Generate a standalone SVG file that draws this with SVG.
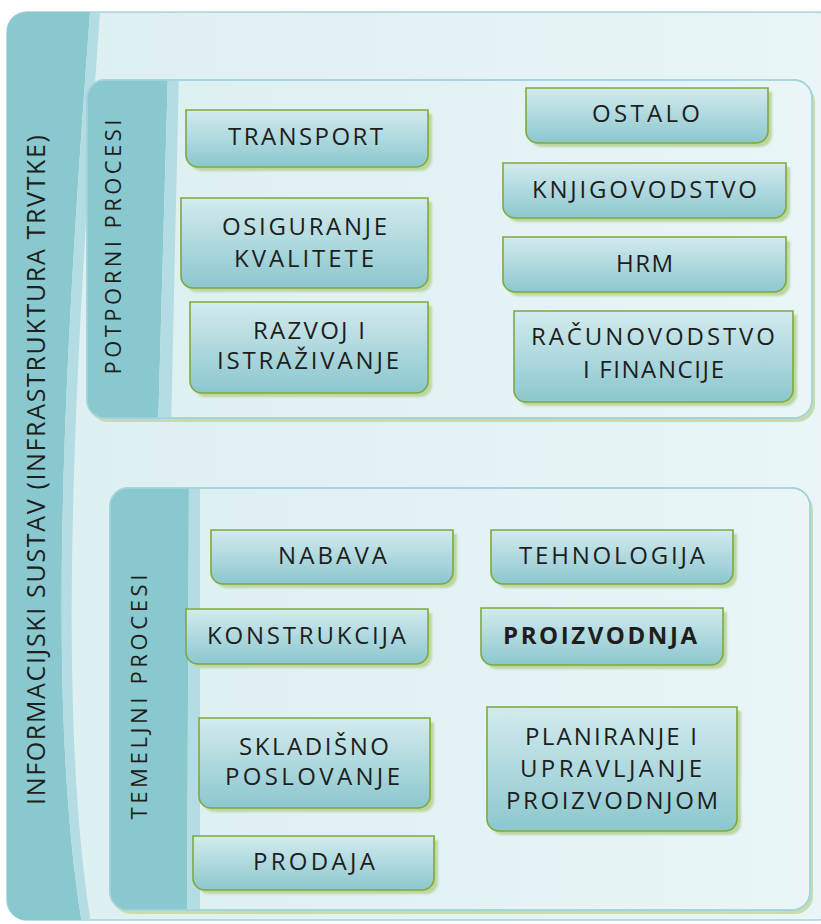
<svg xmlns="http://www.w3.org/2000/svg" width="821" height="924" viewBox="0 0 821 924">
<style>
.bg{fill:url(#bgGrad);stroke:#a3d4db;stroke-width:1.5}
.band{fill:#8ac8cf}
.stripe{fill:#b3dde2}
.cshadow{fill:#c6dcae}
.nshadow{fill:#bcd6a0;filter:url(#blur)}
.node{fill:url(#nodeGrad);stroke:#7fa93c;stroke-width:1.6}
.lbl{font-family:"Open Sans","Liberation Sans",sans-serif;font-size:24px;fill:#1e1e1e;text-anchor:middle}
.bold{font-weight:bold}
.side{font-family:"Open Sans","Liberation Sans",sans-serif;fill:#1e1e1e;text-anchor:middle}
</style>
<defs>
<linearGradient id="bgGrad" x1="0" y1="0" x2="1" y2="0">
<stop offset="0" stop-color="#ddeff2"/>
<stop offset="1" stop-color="#e9f5f7"/>
</linearGradient>
<linearGradient id="nodeGrad" x1="0" y1="0" x2="0" y2="1">
<stop offset="0" stop-color="#d3ebee"/>
<stop offset="1" stop-color="#8bc7ce"/>
</linearGradient>
<filter id="blur" x="-10%" y="-10%" width="120%" height="120%"><feGaussianBlur stdDeviation="1.2"/></filter>
<clipPath id="clipOuter"><rect x="7" y="12" width="830" height="908" rx="20"/></clipPath>
<clipPath id="clipUp"><rect x="87" y="80" width="725" height="338" rx="18"/></clipPath>
<clipPath id="clipLow"><rect x="110" y="488" width="700" height="422" rx="18"/></clipPath>
</defs>

<g id="outer">
<rect class="bg" x="7" y="12" width="830" height="908" rx="20"/>
<g clip-path="url(#clipOuter)">
<path class="band" d="M0 0 H90 V12 C65 350 45 700 82 924 H0 Z"/>
<path class="stripe" d="M90 12 C65 350 45 700 82 924 H91 C55 700 76 350 100 12 Z"/>
</g>
<text class="side" font-size="25" transform="translate(45 470) rotate(-90)" textLength="670" lengthAdjust="spacing">INFORMACIJSKI SUSTAV (INFRASTRUKTURA TRVTKE)</text>
</g>

<g id="potporni">
<rect class="cshadow" x="90" y="84" width="725" height="338" rx="18"/>
<rect class="bg" x="87" y="80" width="725" height="338" rx="18"/>
<g clip-path="url(#clipUp)">
<path class="band" d="M80 70 H168 L158 430 H80 Z"/>
<path class="stripe" d="M168 70 H179 L171 430 H158 Z"/>
</g>
<rect x="87" y="80" width="725" height="338" rx="18" fill="none" stroke="#a3d4db" stroke-width="1.5"/>
<text class="side" font-size="22" transform="translate(121 247) rotate(-90)" textLength="255" lengthAdjust="spacing">POTPORNI PROCESI</text>
</g>

<g id="temeljni">
<rect class="cshadow" x="113" y="492" width="700" height="422" rx="18"/>
<rect class="bg" x="110" y="488" width="700" height="422" rx="18"/>
<g clip-path="url(#clipLow)">
<path class="band" d="M100 480 H189 L187 920 H100 Z"/>
<path class="stripe" d="M189 480 H200 L200 920 H187 Z"/>
</g>
<rect x="110" y="488" width="700" height="422" rx="18" fill="none" stroke="#a3d4db" stroke-width="1.5"/>
<text class="side" font-size="22" transform="translate(147 697) rotate(-90)" textLength="245" lengthAdjust="spacing">TEMELJNI PROCESI</text>
</g>

<g id="connectors"></g>

<g id="n-transport">
<path class="nshadow" d="M190 114 H432 V159 A12 12 0 0 1 420 171 H202 A12 12 0 0 1 190 159 Z"/>
<path class="node" d="M186 110 H428 V155 A12 12 0 0 1 416 167 H198 A12 12 0 0 1 186 155 Z"/>
<text class="lbl" x="305.5" y="145" textLength="155" lengthAdjust="spacing">TRANSPORT</text>
</g>

<g id="n-osiguranje">
<path class="nshadow" d="M185 202 H432 V280 A12 12 0 0 1 420 292 H197 A12 12 0 0 1 185 280 Z"/>
<path class="node" d="M181 198 H428 V276 A12 12 0 0 1 416 288 H193 A12 12 0 0 1 181 276 Z"/>
<text class="lbl" x="304.5" y="235" textLength="165" lengthAdjust="spacing">OSIGURANJE</text>
<text class="lbl" x="304" y="267" textLength="140" lengthAdjust="spacing">KVALITETE</text>
</g>

<g id="n-razvoj">
<path class="nshadow" d="M194 306 H432 V385 A12 12 0 0 1 420 397 H206 A12 12 0 0 1 194 385 Z"/>
<path class="node" d="M190 302 H428 V381 A12 12 0 0 1 416 393 H202 A12 12 0 0 1 190 381 Z"/>
<text class="lbl" x="309" y="339" textLength="112" lengthAdjust="spacing">RAZVOJ I</text>
<text class="lbl" x="308" y="369" textLength="182" lengthAdjust="spacing">ISTRAŽIVANJE</text>
</g>

<g id="n-ostalo">
<path class="nshadow" d="M530 92 H772 V135 A12 12 0 0 1 760 147 H542 A12 12 0 0 1 530 135 Z"/>
<path class="node" d="M526 88 H768 V131 A12 12 0 0 1 756 143 H538 A12 12 0 0 1 526 131 Z"/>
<text class="lbl" x="646" y="122" textLength="108" lengthAdjust="spacing">OSTALO</text>
</g>

<g id="n-knjigovodstvo">
<path class="nshadow" d="M507 167 H790 V210 A12 12 0 0 1 778 222 H519 A12 12 0 0 1 507 210 Z"/>
<path class="node" d="M503 163 H786 V206 A12 12 0 0 1 774 218 H515 A12 12 0 0 1 503 206 Z"/>
<text class="lbl" x="644.5" y="198" textLength="225" lengthAdjust="spacing">KNJIGOVODSTVO</text>
</g>

<g id="n-hrm">
<path class="nshadow" d="M507 241 H790 V284 A12 12 0 0 1 778 296 H519 A12 12 0 0 1 507 284 Z"/>
<path class="node" d="M503 237 H786 V280 A12 12 0 0 1 774 292 H515 A12 12 0 0 1 503 280 Z"/>
<text class="lbl" x="644.5" y="272" textLength="57" lengthAdjust="spacing">HRM</text>
</g>

<g id="n-racunovodstvo">
<path class="nshadow" d="M518 315 H797 V394 A12 12 0 0 1 785 406 H530 A12 12 0 0 1 518 394 Z"/>
<path class="node" d="M514 311 H793 V390 A12 12 0 0 1 781 402 H526 A12 12 0 0 1 514 390 Z"/>
<text class="lbl" x="653" y="345" textLength="244" lengthAdjust="spacing">RAČUNOVODSTVO</text>
<text class="lbl" x="653.5" y="378" textLength="141" lengthAdjust="spacing">I FINANCIJE</text>
</g>

<g id="n-nabava">
<path class="nshadow" d="M215 534 H457 V576 A12 12 0 0 1 445 588 H227 A12 12 0 0 1 215 576 Z"/>
<path class="node" d="M211 530 H453 V572 A12 12 0 0 1 441 584 H223 A12 12 0 0 1 211 572 Z"/>
<text class="lbl" x="332.5" y="564" textLength="109" lengthAdjust="spacing">NABAVA</text>
</g>

<g id="n-tehnologija">
<path class="nshadow" d="M495 534 H737 V576 A12 12 0 0 1 725 588 H507 A12 12 0 0 1 495 576 Z"/>
<path class="node" d="M491 530 H733 V572 A12 12 0 0 1 721 584 H503 A12 12 0 0 1 491 572 Z"/>
<text class="lbl" x="612" y="564" textLength="186" lengthAdjust="spacing">TEHNOLOGIJA</text>
</g>

<g id="n-konstrukcija">
<path class="nshadow" d="M190 613 H432 V656 A12 12 0 0 1 420 668 H202 A12 12 0 0 1 190 656 Z"/>
<path class="node" d="M186 609 H428 V652 A12 12 0 0 1 416 664 H198 A12 12 0 0 1 186 652 Z"/>
<text class="lbl" x="306.5" y="644" textLength="199" lengthAdjust="spacing">KONSTRUKCIJA</text>
</g>

<g id="n-proizvodnja">
<path class="nshadow" d="M485 612 H727 V657 A12 12 0 0 1 715 669 H497 A12 12 0 0 1 485 657 Z"/>
<path class="node" d="M481 608 H723 V653 A12 12 0 0 1 711 665 H493 A12 12 0 0 1 481 653 Z"/>
<text class="lbl bold" x="600" y="644" textLength="194" lengthAdjust="spacing">PROIZVODNJA</text>
</g>

<g id="n-skladisno">
<path class="nshadow" d="M203 722 H434 V800 A12 12 0 0 1 422 812 H215 A12 12 0 0 1 203 800 Z"/>
<path class="node" d="M199 718 H430 V796 A12 12 0 0 1 418 808 H211 A12 12 0 0 1 199 796 Z"/>
<text class="lbl" x="314" y="755" textLength="150" lengthAdjust="spacing">SKLADIŠNO</text>
<text class="lbl" x="312.5" y="785" textLength="175" lengthAdjust="spacing">POSLOVANJE</text>
</g>

<g id="n-planiranje">
<path class="nshadow" d="M491 711 H741 V823 A12 12 0 0 1 729 835 H503 A12 12 0 0 1 491 823 Z"/>
<path class="node" d="M487 707 H737 V819 A12 12 0 0 1 725 831 H499 A12 12 0 0 1 487 819 Z"/>
<text class="lbl" x="611" y="745" textLength="172" lengthAdjust="spacing">PLANIRANJE I</text>
<text class="lbl" x="611" y="777" textLength="182" lengthAdjust="spacing">UPRAVLJANJE</text>
<text class="lbl" x="612" y="809" textLength="212" lengthAdjust="spacing">PROIZVODNJOM</text>
</g>

<g id="n-prodaja">
<path class="nshadow" d="M197 840 H438 V882 A12 12 0 0 1 426 894 H209 A12 12 0 0 1 197 882 Z"/>
<path class="node" d="M193 836 H434 V878 A12 12 0 0 1 422 890 H205 A12 12 0 0 1 193 878 Z"/>
<text class="lbl" x="314" y="870" textLength="122" lengthAdjust="spacing">PRODAJA</text>
</g>
</svg>
